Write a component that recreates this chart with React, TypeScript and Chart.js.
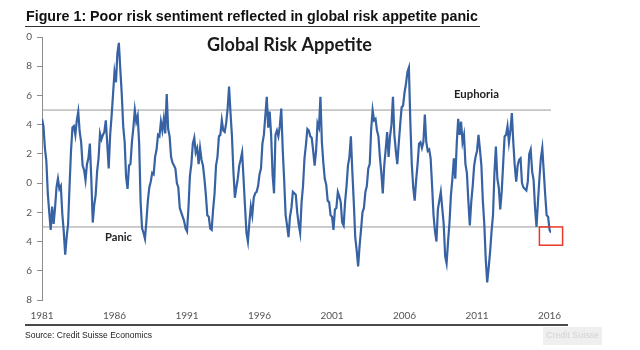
import React, { useEffect, useRef } from "react";
import { Chart, registerables } from "chart.js";

Chart.register(...registerables);

// ---- data ----
const startYear = 1981;
const stepYears = 0.1;
const riskAppetite: number[] = [
  4.4, 3.9, 2.4, 1.5, -0.7, -2.0, -3.2, -1.6, -2.8, -1.7,
  -0.3, 0.3, -0.4, -0.2, -2.1, -3.3, -4.9, -3.7, -2.8, -0.2,
  2.2, 3.8, 3.9, 3.3, 4.3, 4.9, 3.5, 2.8, 1.2, 0.9,
  0.2, 1.3, 1.7, 2.7, 0.3, -2.7, -1.5, -0.8, 0.8, 1.7,
  3.4, 3.0, 3.3, 3.5, 4.3, 2.7, 1.0, 3.3, 4.6, 6.1,
  7.6, 6.9, 8.9, 9.6, 7.8, 6.1, 3.9, 2.8, 0.4, -0.4,
  1.2, 1.3, 2.8, 3.8, 5.0, 4.2, 4.6, 2.7, -1.3, -3.1,
  -3.4, -3.8, -2.6, -1.2, -0.3, 0.1, 0.7, 0.6, 1.8, 2.3,
  3.3, 3.2, 4.2, 3.6, 4.4, 3.4, 6.1, 3.7, 3.2, 1.8,
  1.4, 1.2, 1.0, 0.0, -0.3, -1.7, -2.0, -2.3, -2.6, -3.1,
  -3.3, -1.7, 0.5, 1.3, 2.7, 3.1, 2.1, 2.4, 1.3, 2.4,
  1.6, 1.2, 0.3, -0.8, -2.2, -2.3, -3.1, -3.2, -1.8, -0.7,
  1.2, 1.8, 3.2, 3.3, 4.3, 3.6, 3.5, 4.1, 5.1, 6.6,
  4.8, 3.2, 0.8, -1.0, -0.3, 0.3, 1.2, 1.6, 2.1, 0.3,
  -1.6, -3.4, -4.0, -2.7, -1.6, -2.2, -1.0, -0.7, -0.6, -0.2,
  0.6, 1.0, 2.7, 3.3, 4.6, 5.9, 3.8, 4.9, 3.3, 0.6,
  -0.7, 3.3, 3.6, 3.2, 3.9, 5.1, 2.3, 0.2, -2.2, -2.9,
  -3.7, -2.3, -1.7, -0.6, -0.7, -0.8, -2.0, -2.8, -3.4, -1.3,
  -0.2, 1.7, 2.6, 3.7, 3.6, 3.2, 3.1, 2.2, 1.2, 2.2,
  4.1, 3.8, 5.9, 2.8, 1.4, 0.3, -0.1, -1.2, -1.3, -2.2,
  -2.3, -3.2, -1.8, -1.7, -0.6, -0.9, -1.3, -2.7, -2.9, -1.3,
  -0.2, 1.2, 1.8, 3.2, 0.8, -1.3, -3.7, -4.6, -5.7, -4.3,
  -3.2, -2.0, -1.7, -0.6, -0.2, 1.0, 1.3, 3.7, 5.0, 4.3,
  4.4, 3.6, 3.2, 1.8, 0.7, -0.7, 1.2, 2.3, 3.5, 1.8,
  3.2, 4.0, 5.9, 3.3, 2.2, 1.3, 2.7, 4.0, 5.2, 5.3,
  6.2, 6.8, 7.6, 7.9, 4.2, 1.3, -0.3, -1.2, 0.2, 1.3,
  2.7, 2.8, 2.4, 2.8, 4.7, 2.8, 2.2, 2.3, 1.7, -0.2,
  -2.2, -3.3, -4.0, -1.8, -1.2, -0.6, -1.7, -2.8, -5.0, -5.5,
  -4.0, -2.7, -0.8, 0.3, 1.7, 0.3, 2.7, 4.4, 3.3, 4.2,
  2.8, 3.3, 1.3, 0.7, -1.2, -2.9, -1.3, -0.2, 1.2, 1.8,
  2.2, 3.3, 2.3, 1.2, -1.2, -2.8, -5.2, -6.8, -5.8, -4.7,
  -3.3, -2.2, 0.7, 2.5, 0.3, -0.3, -1.8, -0.6, 1.3, 3.2,
  3.3, 3.9, 2.8, 3.6, 4.8, 2.8, 1.2, 0.1, 1.2, 1.6,
  1.7, 0.0, -0.3, -0.4, -0.5, 0.1, 2.0, 2.3, 0.8, 0.2,
  -1.7, -3.0, -1.3, 0.3, 1.7, 2.4, 0.8, -0.8, -2.2, -2.3,
  -3.2, -3.4,
];
const xTickYears = [1981, 1986, 1991, 1996, 2001, 2006, 2011, 2016];
const yTickValues = [10, 8, 6, 4, 2, 0, -2, -4, -6, -8];
const euphoriaLevel = 5;
const panicLevel = -3;
const figureTitle = "Figure 1: Poor risk sentiment reflected in global risk appetite panic";
const chartTitle = "Global Risk Appetite";
const euphoriaLabel = "Euphoria";
const panicLabel = "Panic";
const sourceText = "Source: Credit Suisse Economics";
const watermarkText = "Credit Suisse";

const lastYear = +(startYear + (riskAppetite.length - 1) * stepYears).toFixed(2);

function fitText(ctx: CanvasRenderingContext2D, text: string, x: number, y: number, width: number) {
  const w = ctx.measureText(text).width;
  ctx.save();
  ctx.translate(x, y);
  ctx.scale(width / w, 1);
  ctx.fillText(text, 0, 0);
  ctx.restore();
}

export default function App() {
  const ref = useRef<HTMLCanvasElement>(null);

  useEffect(() => {
    const canvas = ref.current;
    if (!canvas) return;
    const points = riskAppetite.map((v, i) => ({ x: +(startYear + i * stepYears).toFixed(2), y: v }));

    const overlay = {
      id: "overlay",
      beforeDraw(chart: any) {
        const ctx = chart.ctx as CanvasRenderingContext2D;
        ctx.save();
        ctx.fillStyle = "#ffffff";
        ctx.fillRect(0, 0, chart.width, chart.height);
        ctx.restore();
      },
      afterDraw(chart: any) {
        const ctx = chart.ctx as CanvasRenderingContext2D;
        const xs = chart.scales.x;
        const ys = chart.scales.y;
        ctx.save();
        // figure title
        ctx.fillStyle = "#111";
        ctx.textBaseline = "alphabetic";
        ctx.font = 'bold 14px "Liberation Sans", Arial, sans-serif';
        fitText(ctx, figureTitle, 26, 21, 452);
        ctx.strokeStyle = "#333";
        ctx.lineWidth = 1;
        ctx.beginPath();
        ctx.moveTo(25, 26.5);
        ctx.lineTo(480, 26.5);
        ctx.stroke();

        // chart title
        ctx.fillStyle = "#1a1a1a";
        ctx.font = 'bold 18px Lato, "Open Sans", sans-serif';
        fitText(ctx, chartTitle, 207, 51, 165);

        // level labels
        ctx.font = 'bold 11px Lato, "Open Sans", sans-serif';
        ctx.textBaseline = "middle";
        ctx.fillStyle = "#222";
        fitText(ctx, euphoriaLabel, 454, 94, 45);
        fitText(ctx, panicLabel, 105, 237, 27);

        // red highlight box
        const bx0 = xs.getPixelForValue(2015.3);
        const bx1 = xs.getPixelForValue(2016.9);
        const by0 = ys.getPixelForValue(-3.0);
        const by1 = ys.getPixelForValue(-4.25);
        ctx.strokeStyle = "#e8392b";
        ctx.lineWidth = 1.5;
        ctx.strokeRect(bx0, by0, bx1 - bx0, by1 - by0);

        // bottom rule
        ctx.strokeStyle = "#4a4a4a";
        ctx.lineWidth = 2;
        ctx.beginPath();
        ctx.moveTo(25, 325);
        ctx.lineTo(568, 325);
        ctx.stroke();

        // source
        ctx.fillStyle = "#222";
        ctx.font = '9px "Liberation Sans", Arial, sans-serif';
        fitText(ctx, sourceText, 25, 336, 127);

        // watermark
        ctx.fillStyle = "#efefef";
        ctx.fillRect(543, 327, 59, 18);
        ctx.fillStyle = "#d2d2d2";
        ctx.font = '9px "Liberation Sans", Arial, sans-serif';
        fitText(ctx, watermarkText, 546, 336, 53);
        ctx.restore();
      },
    };

    const chart = new Chart(canvas, {
      type: "line",
      data: {
        datasets: [
          {
            data: points,
            borderColor: "#3762a4",
            borderWidth: 2.2,
            pointRadius: 0,
            tension: 0,
          },
          {
            data: [{ x: startYear, y: euphoriaLevel }, { x: lastYear, y: euphoriaLevel }],
            borderColor: "#9a9a9a",
            borderWidth: 1,
            pointRadius: 0,
          },
          {
            data: [{ x: startYear, y: panicLevel }, { x: lastYear, y: panicLevel }],
            borderColor: "#9a9a9a",
            borderWidth: 1,
            pointRadius: 0,
          },
        ],
      },
      options: {
        responsive: false,
        animation: false,
        layout: { padding: { top: 37, right: 89, left: 0, bottom: 0 } },
        plugins: {
          legend: { display: false },
          tooltip: { enabled: false },
          title: { display: false },
        },
        scales: {
          x: {
            type: "linear",
            min: startYear,
            max: lastYear,
            grid: { display: false, drawTicks: false },
            border: { display: false },
            afterBuildTicks: (s: any) => {
              s.ticks = xTickYears.map((v) => ({ value: v }));
            },
            afterFit: (s: any) => {
              s.height = 50;
            },
            ticks: {
              padding: 10,
              color: "#555",
              font: { family: "Lato", size: 10 },
              maxRotation: 0,
              autoSkip: false,
              callback: (v: any) => String(v),
            },
          },
          y: {
            min: -8,
            max: 10,
            afterBuildTicks: (s: any) => {
              s.ticks = yTickValues.map((v) => ({ value: v }));
            },
            afterFit: (s: any) => {
              s.width = 42;
            },
            grid: { display: true, drawOnChartArea: false, drawTicks: true, tickLength: 5, color: "#8c8c8c" },
            border: { display: true, color: "#8c8c8c", width: 1 },
            ticks: {
              padding: 5,
              color: "#555",
              font: { family: "Lato", size: 10 },
              callback: (v: any) => String(Math.abs(v)).slice(-1),
            },
          },
        },
      },
      plugins: [overlay],
    } as any);

    return () => chart.destroy();
  }, []);

  return (
    <div style={{ position: "fixed", left: 0, top: 0, width: 640, height: 350, background: "#fff" }}>
      <canvas ref={ref} width={640} height={350} style={{ display: "block" }} />
    </div>
  );
}
